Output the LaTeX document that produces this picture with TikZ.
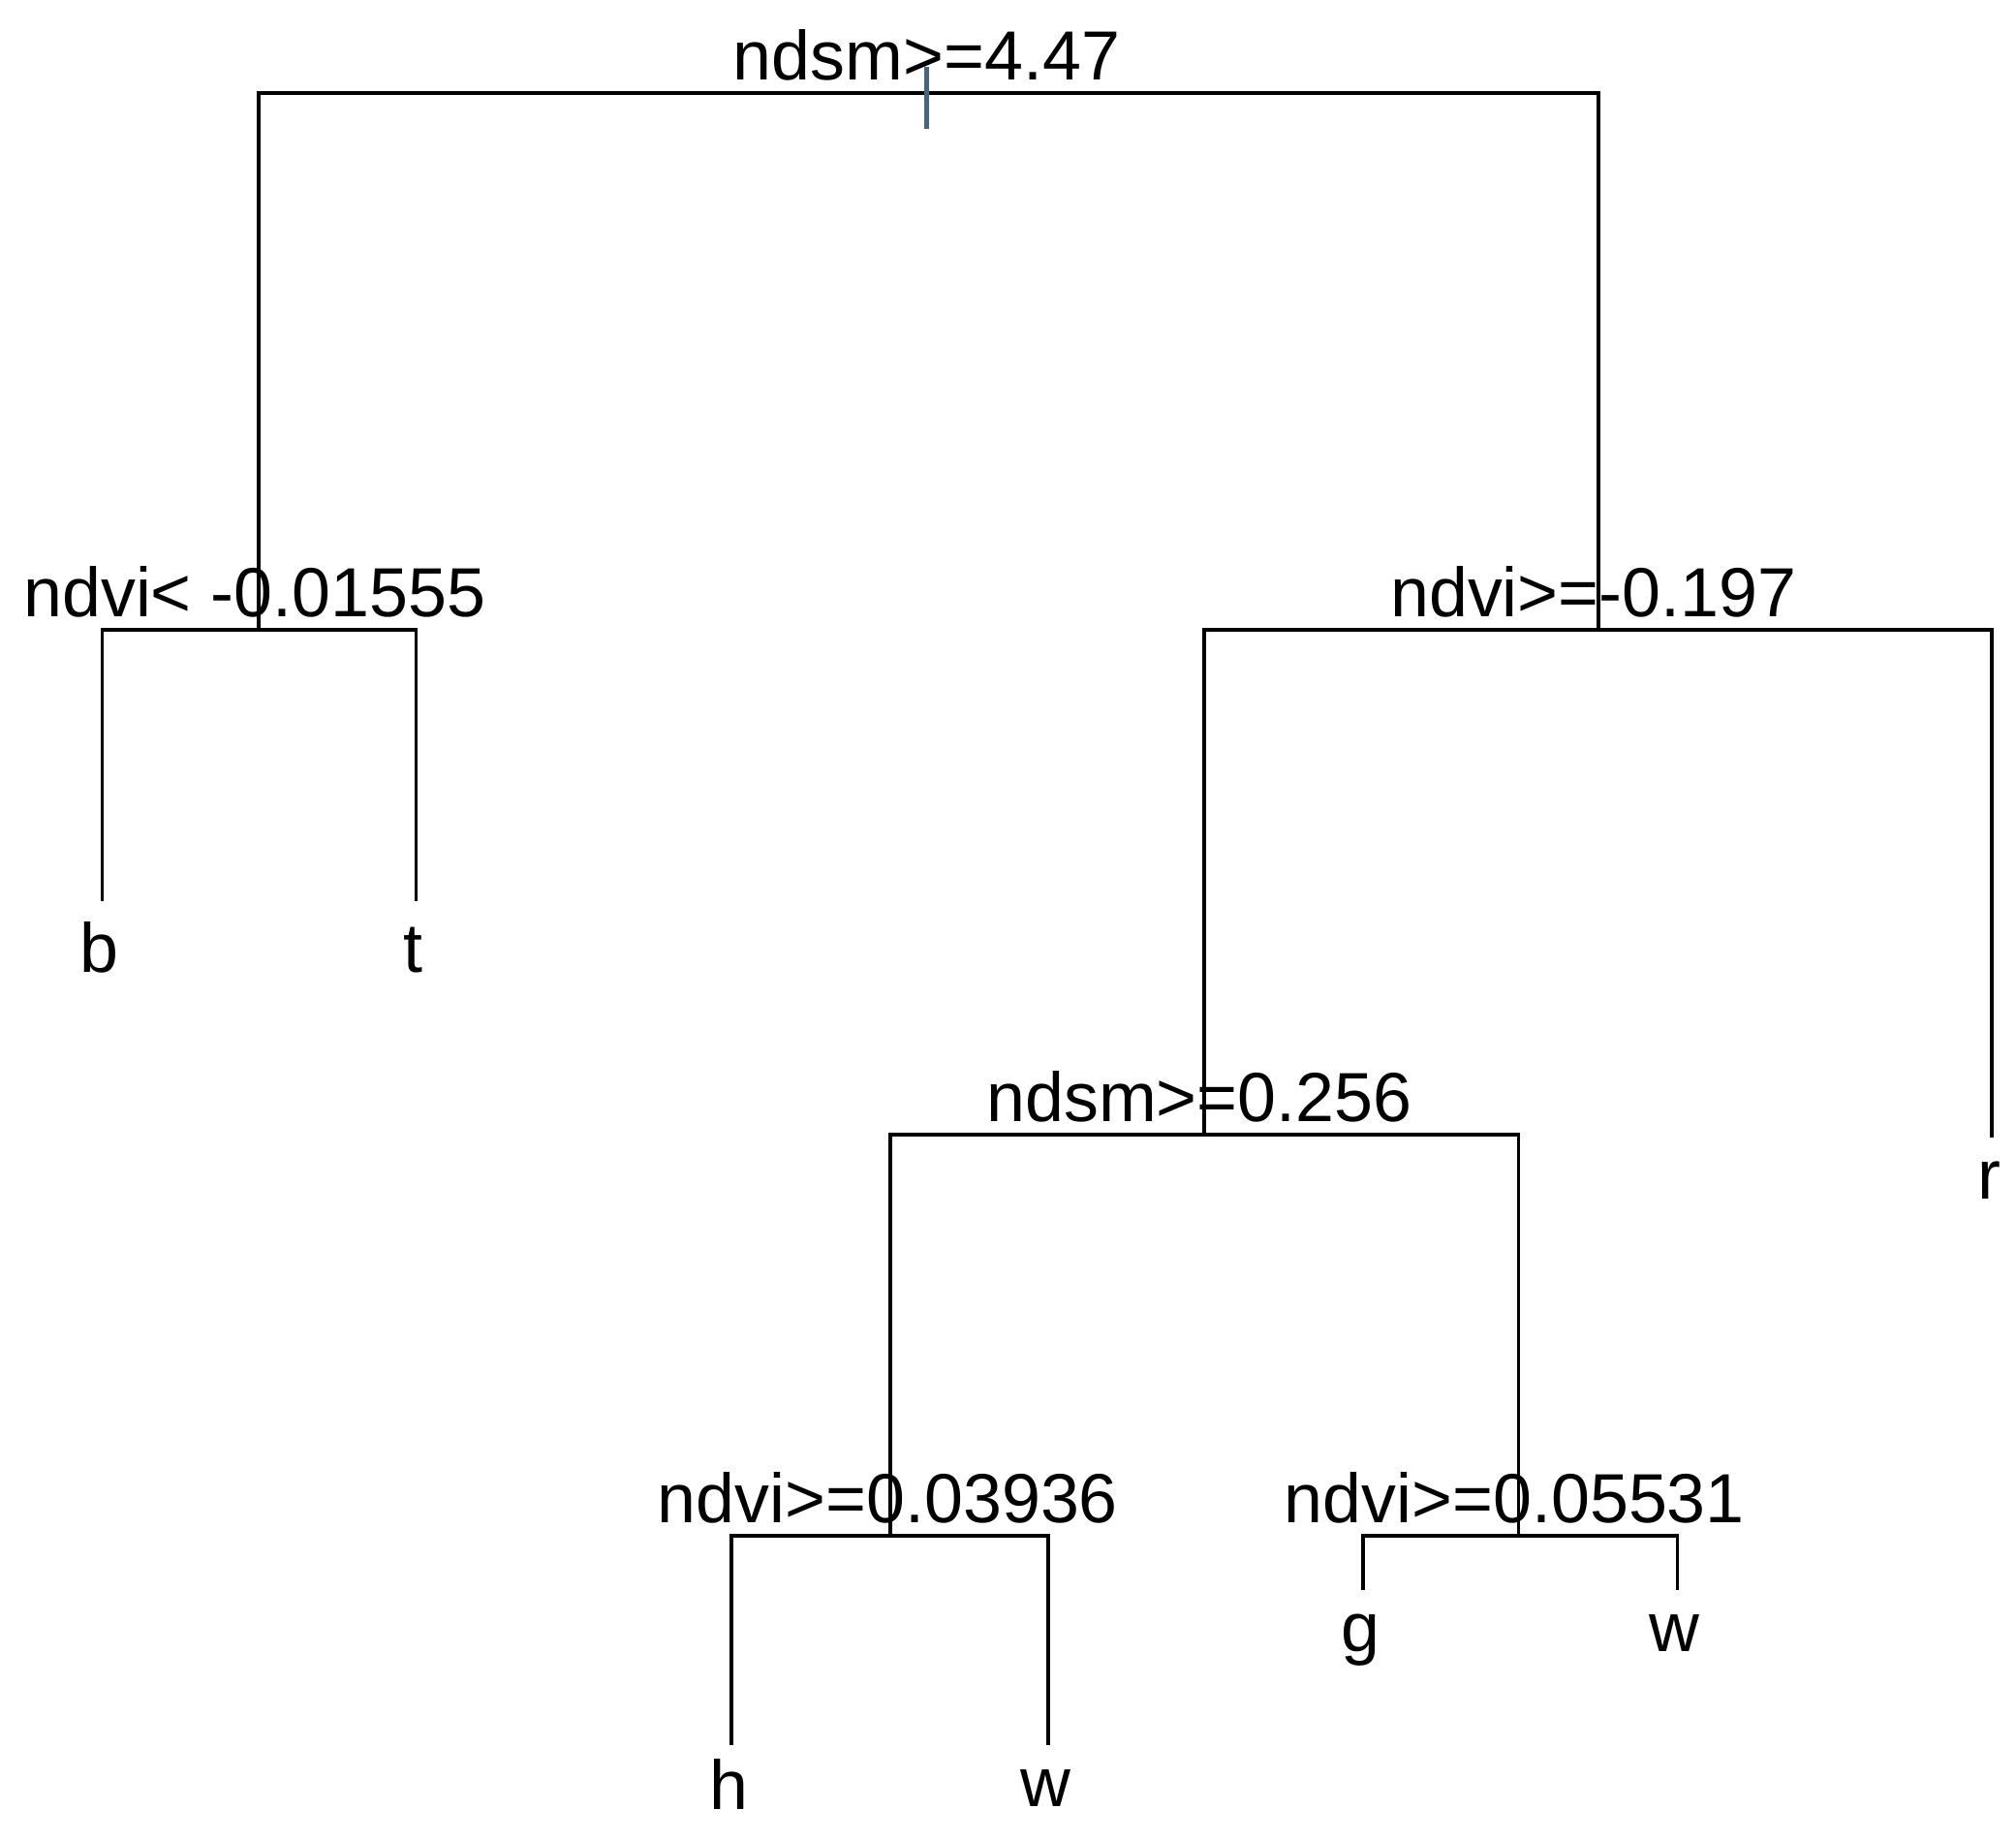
\documentclass[tikz,border=0pt]{standalone}
\usepackage{fontspec}
\setmainfont{Liberation Sans}
\begin{document}
\begin{tikzpicture}[x=0.01cm,y=-0.01cm,
  lbl/.style={anchor=base,inner sep=0pt,font=\fontsize{15.3}{18}\selectfont},
  edge/.style={line width=0.8pt}]
\useasboundingbox (0,0) rectangle (1560,1424);
\coordinate (r0) at (717,72);
\coordinate (rl) at (200,72); \coordinate (rr) at (1237,72);
\coordinate (a) at (200,487); \coordinate (al) at (79,487); \coordinate (ar) at (322,487);
\coordinate (bend) at (79,697); \coordinate (tend) at (322,697);
\coordinate (c) at (1237,487); \coordinate (cl) at (932,487); \coordinate (cr) at (1541,487);
\coordinate (rend) at (1541,880);
\coordinate (d) at (932,878); \coordinate (dl) at (689,878); \coordinate (dr) at (1175,878);
\coordinate (e) at (689,1188); \coordinate (el) at (566,1188); \coordinate (er) at (811,1188);
\coordinate (hend) at (566,1350); \coordinate (w1end) at (811,1350);
\coordinate (f) at (1175,1188); \coordinate (fl) at (1055,1188); \coordinate (fr) at (1298,1188);
\coordinate (gend) at (1055,1230); \coordinate (w2end) at (1298,1230);
\draw[edge] (a) -- (rl) -- (rr) -- (c);
\draw[edge] (bend) -- (al) -- (ar) -- (tend);
\draw[edge] (d) -- (cl) -- (cr) -- (rend);
\draw[edge] (e) -- (dl) -- (dr) -- (f);
\draw[edge] (hend) -- (el) -- (er) -- (w1end);
\draw[edge] (gend) -- (fl) -- (fr) -- (w2end);
\draw[line width=1pt,color=black!60!cyan!80!blue] (717,52) -- (717,100);
\node[lbl] (l0) at (717,62) {ndsm>=4.47};
\node[lbl] (l1) at (197,477) {ndvi< -0.01555};
\node[lbl] (l2) at (1233,477) {ndvi>=-0.197};
\node[lbl] (l3) at (928,868) {ndsm>=0.256};
\node[lbl] (l4) at (687,1178) {ndvi>=0.03936};
\node[lbl] (l5) at (1172,1178) {ndvi>=0.05531};
\node[lbl] (lb) at (77,752) {b};
\node[lbl] (lt) at (320,752) {t};
\node[lbl] (lr) at (1539,928) {r};
\node[lbl] (lh) at (564,1400) {h};
\node[lbl] (lw1) at (809,1398) {w};
\node[lbl] (lg) at (1053,1278) {g};
\node[lbl] (lw2) at (1296,1278) {w};
\end{tikzpicture}
\end{document}
